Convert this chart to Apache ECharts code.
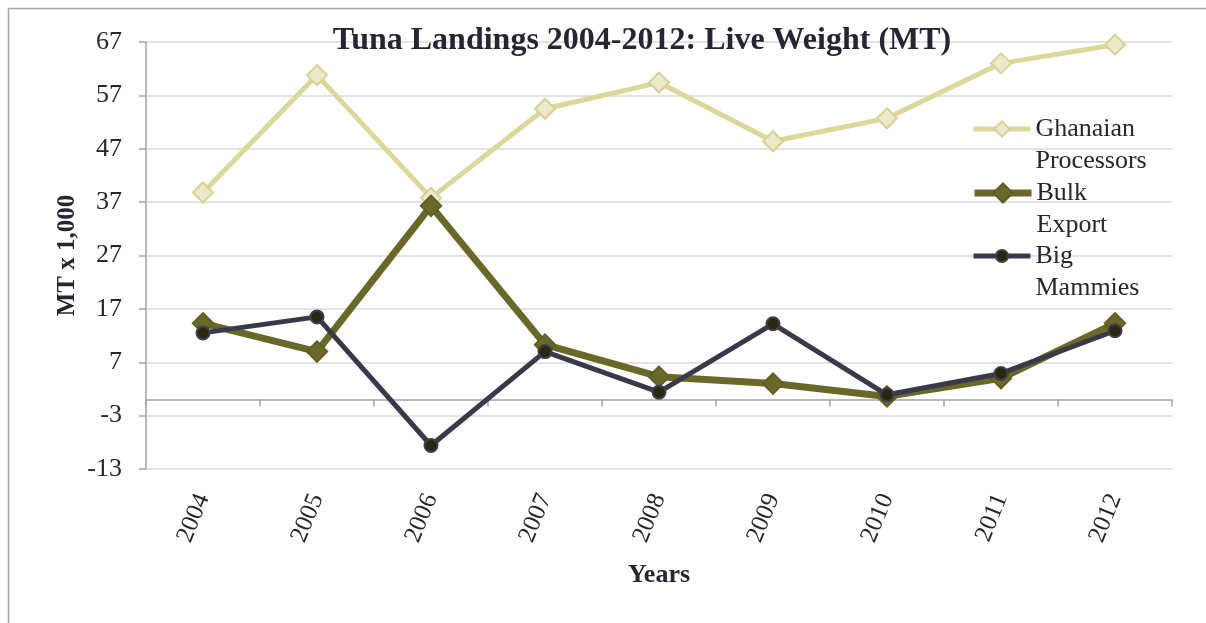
<!DOCTYPE html>
<html>
<head>
<meta charset="utf-8">
<script src="https://cdn.jsdelivr.net/npm/echarts@6/dist/echarts.min.js"></script>
<style>
  html, body { margin: 0; padding: 0; background: #ffffff; }
  #chart { width: 1206px; height: 623px; }
</style>
</head>
<body>
<div id="chart"></div>
<script>
// Tuna landings by destination, thousands of metric tonnes (live weight)
const years = ['2004', '2005', '2006', '2007', '2008', '2009', '2010', '2011', '2012'];
const ghanaianProcessors = [38.8, 60.8, 37.8, 54.5, 59.4, 48.4, 52.7, 63.0, 66.5];
const bulkExport = [14.3, 9.0, 36.3, 10.3, 4.3, 3.0, 0.6, 4.0, 14.3];
const bigMammies = [12.5, 15.5, -8.6, 9.0, 1.4, 14.2, 0.9, 4.9, 12.9];
const seriesNames = ['Ghanaian\nProcessors', 'Bulk\nExport', 'Big\nMammies'];

const FONT = '"Liberation Serif", "Times New Roman", serif';
const TEXT = '#262633';
const AXIS = '#a3a3a3';

const lineColors = ['#dcd89c', '#6a6829', '#383a4a'];
const lineWidths = [5, 7, 5];

const chart = echarts.init(document.getElementById('chart'), null, { renderer: 'canvas' });

// one legend block per series; a leading blank line keeps the icon level with the first word
function legendBlock(i, iconCenterY, itemHeight) {
  return {
    data: [seriesNames[i]],
    formatter: (name) => '\n' + name,
    left: 971,
    top: iconCenterY - 48,
    padding: 0,
    itemWidth: 57,
    itemHeight: itemHeight,
    itemGap: 0,
    lineStyle: { color: lineColors[i], width: lineWidths[i] },
    textStyle: {
      fontFamily: FONT,
      fontSize: 26,
      lineHeight: 32,
      color: TEXT
    }
  };
}

chart.setOption({
  animation: false,
  backgroundColor: '#ffffff',
  graphic: [{
    type: 'rect',
    shape: { x: 8.5, y: 8.5, width: 1400, height: 800 },
    style: { fill: 'none', stroke: '#a6a6a6', lineWidth: 1.5 },
    silent: true
  }],
  title: {
    text: 'Tuna Landings 2004-2012: Live Weight (MT)',
    left: 637,
    textAlign: 'center',
    top: 20,
    textStyle: { fontFamily: FONT, fontSize: 32, fontWeight: 'bold', color: TEXT }
  },
  legend: [
    legendBlock(0, 129, 19),
    legendBlock(1, 193, 24),
    legendBlock(2, 256, 15)
  ],
  grid: { left: 146, right: 34, top: 42, bottom: 154, containLabel: false, outerBoundsMode: 'none' },
  xAxis: {
    type: 'category',
    data: years,
    boundaryGap: true,
    name: 'Years',
    nameLocation: 'middle',
    nameGap: 93,
    nameMoveOverlap: false,
    nameTextStyle: { fontFamily: FONT, fontSize: 26, fontWeight: 'bold', color: TEXT },
    axisLine: { onZero: true, lineStyle: { color: AXIS, width: 1.5 } },
    axisTick: { show: true, length: 7, inside: false, lineStyle: { color: AXIS, width: 1.5 } },
    axisLabel: {
      interval: 0,
      rotate: 68,
      margin: 26,
      fontFamily: FONT,
      fontSize: 25,
      color: TEXT
    },
    splitLine: { show: false }
  },
  yAxis: {
    type: 'value',
    min: -13,
    max: 67,
    interval: 10,
    name: 'MT x 1,000',
    nameLocation: 'middle',
    nameRotate: 90,
    nameGap: 66,
    nameMoveOverlap: false,
    nameTextStyle: { fontFamily: FONT, fontSize: 25, fontWeight: 'bold', color: TEXT },
    axisLine: { show: true, lineStyle: { color: AXIS, width: 1.5 } },
    axisTick: { show: true, length: 7, lineStyle: { color: AXIS, width: 1.5 } },
    axisLabel: { margin: 24, fontFamily: FONT, fontSize: 26, color: TEXT },
    splitLine: { show: true, lineStyle: { color: '#dadada', width: 1.5 } }
  },
  series: [
    {
      name: seriesNames[0],
      type: 'line',
      data: ghanaianProcessors,
      symbol: 'diamond',
      symbolSize: 20,
      lineStyle: { color: lineColors[0], width: lineWidths[0], join: 'round' },
      itemStyle: { color: '#ece9c8', borderColor: '#d6d297', borderWidth: 2 },
      z: 2
    },
    {
      name: seriesNames[1],
      type: 'line',
      data: bulkExport,
      symbol: 'diamond',
      symbolSize: 21,
      lineStyle: { color: lineColors[1], width: lineWidths[1], join: 'round' },
      itemStyle: { color: '#6a6829', borderColor: '#5e5c22', borderWidth: 1.5 },
      z: 3
    },
    {
      name: seriesNames[2],
      type: 'line',
      data: bigMammies,
      symbol: 'circle',
      symbolSize: 13,
      lineStyle: { color: lineColors[2], width: lineWidths[2], join: 'round' },
      itemStyle: { color: '#2a2910', borderColor: '#3d3e4e', borderWidth: 2 },
      z: 4
    }
  ]
});
</script>
</body>
</html>
